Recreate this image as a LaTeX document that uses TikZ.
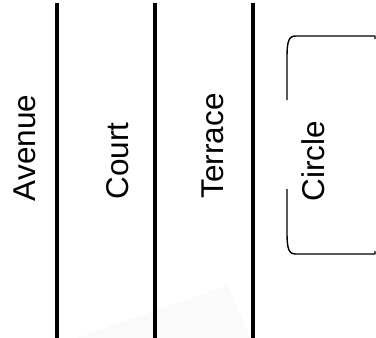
\documentclass[tikz,border=0pt]{standalone}
\usepackage{fontspec}
\setmainfont{Liberation Sans}
\begin{document}
\begin{tikzpicture}[x=1pt,y=-1pt,
  divider/.style={line width=4pt},
  bracketline/.style={line width=1.4pt, line join=round},
  label/.style={rotate=90, inner sep=0pt, font=\fontsize{31.5}{38}\selectfont}]
\useasboundingbox (0,0) rectangle (376,338);
\fill[gray!4] (77,338) -- (228,285) -- (250,338) -- cycle;
\draw[divider] (57,3) -- (57,338);
\draw[divider] (155,3) -- (155,338);
\draw[divider] (253,3) -- (253,338);
\draw[bracketline] (287,100) -- (287,58) .. controls (287,40) and (289,36) .. (296,36) -- (375,36) -- (375,39);
\draw[bracketline] (287,189) -- (287,232) .. controls (287,250) and (289,254) .. (296,254) -- (375,254) -- (375,251);
\node[label] (avenue) at (25,148) {Avenue};
\node[label] (court) at (118,161) {Court};
\node[label] (terrace) at (213,146) {Terrace};
\node[label] (circle) at (313,161) {Circle};
\end{tikzpicture}
\end{document}
